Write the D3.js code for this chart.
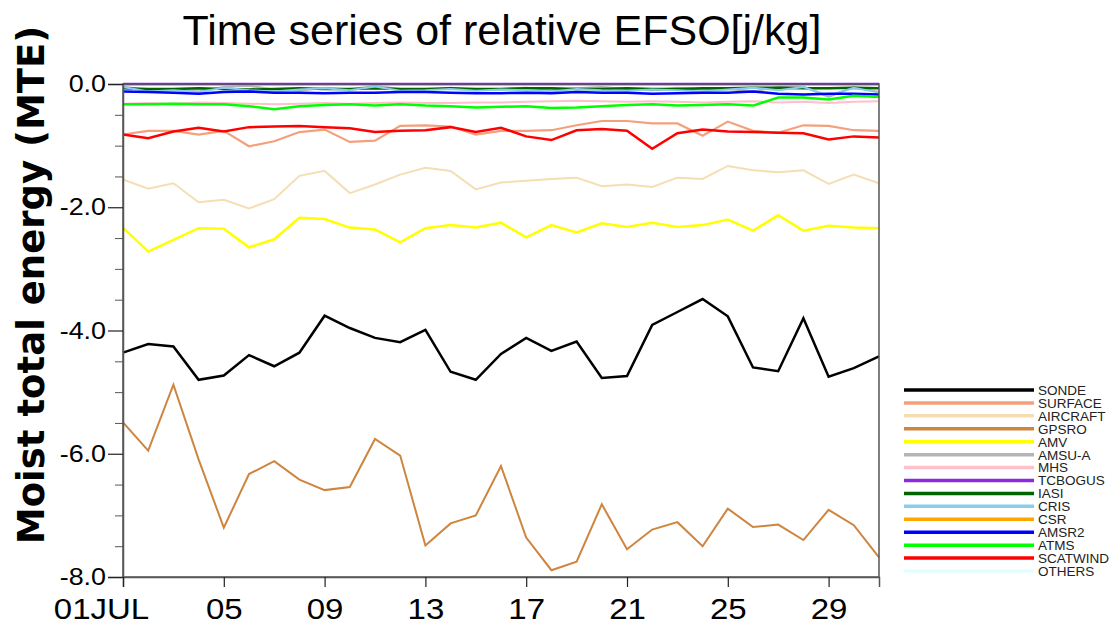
<!DOCTYPE html>
<html><head><meta charset="utf-8">
<script src="https://cdn.jsdelivr.net/npm/d3@7"></script>
<style>body{margin:0;background:#fff;} svg{display:block;}</style>
</head><body>
<script>
const days = d3.range(1, 32);
const xTickDays = [1, 5, 9, 13, 17, 21, 25, 29];
const xTickLabels = ["01JUL", "05", "09", "13", "17", "21", "25", "29"];
const yTickValues = [0, -2, -4, -6, -8];
const yTickLabels = ["0.0", "-2.0", "-4.0", "-6.0", "-8.0"];

const seriesNames = ["SONDE","SURFACE","AIRCRAFT","GPSRO","AMV","AMSU-A","MHS","TCBOGUS","IASI","CRIS","CSR","AMSR2","ATMS","SCATWIND","OTHERS"];
const seriesColors = ["#000000","#f4a07c","#f5deb3","#cd853f","#ffff00","#b4b4b4","#ffc0cb","#8a2be2","#006400","#87ceeb","#ffa500","#0000ff","#00ff00","#ff0000","#e0ffff"];

const SONDE = [-4.36,-4.22,-4.26,-4.80,-4.73,-4.40,-4.58,-4.36,-3.76,-3.96,-4.12,-4.19,-3.99,-4.67,-4.80,-4.38,-4.12,-4.33,-4.18,-4.77,-4.74,-3.91,-3.70,-3.49,-3.77,-4.60,-4.66,-3.80,-4.75,-4.61,-4.42];
const SURFACE = [-0.82,-0.76,-0.76,-0.82,-0.76,-1.01,-0.93,-0.78,-0.74,-0.94,-0.92,-0.68,-0.67,-0.69,-0.82,-0.76,-0.76,-0.75,-0.67,-0.60,-0.60,-0.64,-0.64,-0.84,-0.61,-0.76,-0.79,-0.67,-0.68,-0.75,-0.76];
const AIRCRAFT = [-1.55,-1.70,-1.61,-1.92,-1.88,-2.02,-1.87,-1.49,-1.41,-1.77,-1.63,-1.47,-1.36,-1.41,-1.71,-1.60,-1.57,-1.54,-1.52,-1.66,-1.63,-1.67,-1.52,-1.54,-1.33,-1.40,-1.43,-1.40,-1.62,-1.47,-1.61];
const GPSRO = [-5.49,-5.95,-4.88,-6.09,-7.20,-6.33,-6.12,-6.42,-6.59,-6.54,-5.76,-6.03,-7.49,-7.13,-7.00,-6.20,-7.36,-7.89,-7.75,-6.82,-7.55,-7.23,-7.11,-7.50,-6.89,-7.19,-7.15,-7.40,-6.91,-7.16,-7.68];
const AMV = [-2.33,-2.72,-2.53,-2.34,-2.35,-2.65,-2.52,-2.17,-2.19,-2.33,-2.36,-2.57,-2.34,-2.29,-2.33,-2.25,-2.49,-2.29,-2.41,-2.26,-2.32,-2.25,-2.32,-2.29,-2.20,-2.38,-2.13,-2.38,-2.30,-2.33,-2.34];
const AMSUA = [-0.04,-0.10,-0.08,-0.12,-0.05,-0.03,-0.09,-0.11,-0.06,-0.09,-0.03,-0.08,-0.10,-0.06,-0.10,-0.08,-0.06,-0.10,-0.07,-0.05,-0.08,-0.10,-0.06,-0.09,-0.08,-0.12,-0.05,-0.04,-0.21,-0.05,-0.13];
const MHS = [-0.32,-0.31,-0.32,-0.30,-0.31,-0.32,-0.33,-0.32,-0.31,-0.32,-0.31,-0.30,-0.31,-0.31,-0.30,-0.30,-0.29,-0.28,-0.27,-0.28,-0.29,-0.28,-0.29,-0.30,-0.29,-0.28,-0.30,-0.29,-0.31,-0.29,-0.28];
const TCBOGUS = [0,0,0,0,0,0,0,0,0,0,0,0,0,0,0,0,0,0,0,0,0,0,0,0,0,0,0,0,0,0,0];
const IASI = [-0.07,-0.08,-0.08,-0.07,-0.08,-0.09,-0.08,-0.07,-0.08,-0.08,-0.07,-0.08,-0.08,-0.07,-0.08,-0.08,-0.07,-0.07,-0.08,-0.08,-0.07,-0.08,-0.08,-0.07,-0.07,-0.06,-0.06,-0.07,-0.07,-0.06,-0.07];
const CRIS = [-0.05,-0.12,-0.10,-0.13,-0.06,-0.10,-0.12,-0.09,-0.07,-0.10,-0.04,-0.11,-0.10,-0.08,-0.11,-0.09,-0.10,-0.12,-0.08,-0.10,-0.11,-0.09,-0.10,-0.12,-0.09,-0.06,-0.10,-0.05,-0.19,-0.06,-0.14];
const CSR = [-0.01,-0.01,-0.01,-0.01,-0.01,-0.01,-0.01,-0.01,-0.01,-0.01,-0.01,-0.01,-0.01,-0.01,-0.01,-0.01,-0.01,-0.01,-0.01,-0.01,-0.01,-0.01,-0.01,-0.01,-0.01,-0.01,-0.01,-0.01,-0.01,-0.01,-0.01];
const AMSR2 = [-0.12,-0.13,-0.14,-0.16,-0.13,-0.12,-0.14,-0.14,-0.15,-0.14,-0.14,-0.13,-0.13,-0.14,-0.15,-0.15,-0.14,-0.15,-0.13,-0.14,-0.14,-0.16,-0.15,-0.14,-0.14,-0.12,-0.16,-0.17,-0.16,-0.16,-0.17];
const ATMS = [-0.33,-0.33,-0.32,-0.33,-0.33,-0.36,-0.41,-0.36,-0.34,-0.33,-0.35,-0.33,-0.35,-0.36,-0.38,-0.37,-0.36,-0.39,-0.38,-0.36,-0.34,-0.33,-0.35,-0.34,-0.33,-0.35,-0.22,-0.22,-0.25,-0.19,-0.21];
const SCATWIND = [-0.82,-0.88,-0.77,-0.71,-0.77,-0.70,-0.69,-0.68,-0.70,-0.72,-0.78,-0.76,-0.75,-0.70,-0.78,-0.71,-0.85,-0.91,-0.75,-0.73,-0.76,-1.05,-0.80,-0.74,-0.77,-0.78,-0.79,-0.80,-0.90,-0.85,-0.87];
const OTHERS = [-0.005,-0.005,-0.005,-0.005,-0.005,-0.005,-0.005,-0.005,-0.005,-0.005,-0.005,-0.005,-0.005,-0.005,-0.005,-0.005,-0.005,-0.005,-0.005,-0.005,-0.005,-0.005,-0.005,-0.005,-0.005,-0.005,-0.005,-0.005,-0.005,-0.005,-0.005];

const seriesValues = [SONDE,SURFACE,AIRCRAFT,GPSRO,AMV,AMSUA,MHS,TCBOGUS,IASI,CRIS,CSR,AMSR2,ATMS,SCATWIND,OTHERS];
const seriesWidths = [2.5,2.2,2,2,2.5,2,2,2.5,2.5,2,2,2.5,2.5,2.5,2];

const W = 1120, H = 640;
const FONT = "'Liberation Sans', Arial, sans-serif";
const svg = d3.select("body").append("svg").attr("width", W).attr("height", H);

const x = d3.scaleLinear().domain([1, 31]).range([123, 879]);
const y = d3.scaleLinear().domain([0, -8]).range([84, 577]);

// Title
svg.append("text").attr("x", 502).attr("y", 45).attr("text-anchor", "middle")
  .style("font-family", FONT).style("font-size", "43px").attr("fill", "#000")
  .text("Time series of relative EFSO[j/kg]");

// Y title
svg.append("text").attr("transform", "translate(44,285) rotate(-90)").attr("text-anchor", "middle")
  .style("font-family", "'DejaVu Sans', sans-serif").style("font-weight", "bold").style("font-size", "37px")
  .text("Moist total energy (MTE)");

// Lines (TCBOGUS drawn last so it sits on top at zero)
const order = [0,1,2,3,4,5,6,8,9,10,11,12,13,14,7];
const line = d3.line().x((d, i) => x(days[i])).y(d => y(d));
const gLines = svg.append("g");
order.forEach(k => {
  gLines.append("path").datum(seriesValues[k]).attr("d", line)
    .attr("fill", "none").attr("stroke", seriesColors[k]).attr("stroke-width", seriesWidths[k])
    .attr("stroke-linejoin", "miter");
});

// Frame
svg.append("rect").attr("x", x(1)).attr("y", y(0)).attr("width", x(31) - x(1)).attr("height", y(-8) - y(0))
  .attr("fill", "none").attr("stroke", "#555").attr("stroke-width", 1.5);

// Y axis
const yAxis = d3.axisLeft(y).tickValues(yTickValues).tickSize(15).tickPadding(3)
  .tickFormat((d, i) => yTickLabels[i]);
const gy = svg.append("g").attr("transform", `translate(${x(1)},0)`).call(yAxis);
gy.select(".domain").attr("stroke", "#555").attr("stroke-width", 1.5);
gy.selectAll(".tick line").attr("stroke", "#222").attr("stroke-width", 1.2);
gy.selectAll("text").style("font-family", FONT).style("font-size", "24px").attr("fill", "#000")
  .attr("x", 0).attr("transform", "translate(-17,0) scale(1.12,1)");
const yMinor = d3.axisLeft(y).tickValues(d3.range(0, -8.01, -0.5).filter(v => Math.abs(v % 2) > 0.01)).tickSize(8).tickFormat("");
const gym = svg.append("g").attr("transform", `translate(${x(1)},0)`).call(yMinor);
gym.select(".domain").remove();
gym.selectAll(".tick line").attr("stroke", "#555").attr("stroke-width", 1);

// X axis
const xAxis = d3.axisBottom(x).tickValues(xTickDays).tickSize(10).tickPadding(11)
  .tickFormat((d, i) => xTickLabels[i]);
const gx = svg.append("g").attr("transform", `translate(0,${y(-8)})`).call(xAxis);
gx.select(".domain").attr("stroke", "#555").attr("stroke-width", 1.5);
gx.selectAll(".tick line").attr("stroke", "#222").attr("stroke-width", 1.2);
gx.selectAll("text").style("font-family", FONT).style("font-size", "30px").attr("fill", "#000")
  .attr("transform", (d, i) => i === 0 ? "translate(-22,0) scale(1.1,1)" : "scale(1.1,1)");

// Legend
const legend = svg.append("g");
const ly = d3.scalePoint().domain(seriesNames).range([390, 571]);
seriesNames.forEach((n, k) => {
  legend.append("line").attr("x1", 904).attr("x2", 1034).attr("y1", ly(n)).attr("y2", ly(n))
    .attr("stroke", seriesColors[k]).attr("stroke-width", 3.5);
  legend.append("text").attr("x", 1038).attr("y", ly(n)).attr("dy", "0.36em")
    .style("font-family", FONT).style("font-size", "13.5px").attr("fill", "#222")
    .text(n);
});
</script>
</body></html>
